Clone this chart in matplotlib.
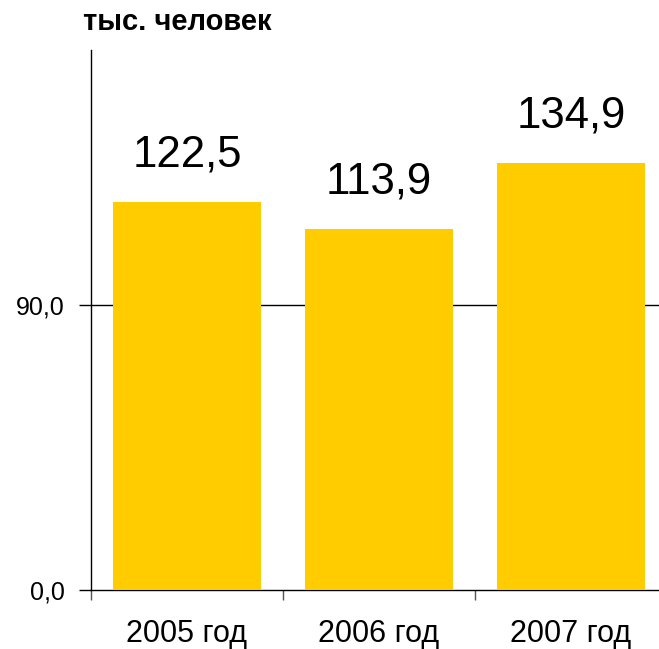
import numpy as np
import matplotlib.pyplot as plt

plt.rcParams["font.family"] = ["Liberation Sans", "DejaVu Sans"]

categories = ["2005 год", "2006 год", "2007 год"]
values = [122.5, 113.9, 134.9]
value_labels = ["122,5", "113,9", "134,9"]
ytick_values = [0, 90]
ytick_labels = ["0,0", "90,0"]
unit_label = "тыс. человек"

W, H = 659, 649
fig = plt.figure(figsize=(W / 100, H / 100), dpi=100)
ax = fig.add_axes([91 / W, 59 / H, (667 - 91) / W, (590 - 50) / H])

x = np.arange(len(categories))
bars = ax.bar(x, values, width=0.77, color="#FFCC00", zorder=3)

ax.set_xlim(-0.5, len(categories) - 0.5)
ax.set_ylim(0, 170.5)

# --- gridline at 90 ---
for v in ytick_values[1:]:
    ax.axhline(v, color="black", lw=1, zorder=1)

# --- data labels ---
for b, lab in zip(bars, value_labels):
    ax.annotate(lab, (b.get_x() + b.get_width() / 2, b.get_height()),
                xytext=(0, 19), textcoords="offset points",
                ha="center", va="bottom", fontsize=31.5)

# --- ticks ---
ax.set_yticks(ytick_values)
ax.set_yticklabels(ytick_labels, fontsize=18)
ax.set_xticks(x)
ax.set_xticklabels(categories, fontsize=22)
ax.tick_params(axis="x", which="major", length=0, pad=21)
ax.set_xticks(np.arange(len(categories) + 1) - 0.5, minor=True)
ax.tick_params(axis="x", which="minor", length=7, width=1, color="#555555")
ax.tick_params(axis="y", length=9, width=1, pad=10)

for side in ["top", "right"]:
    ax.spines[side].set_visible(False)
for side in ["left", "bottom"]:
    ax.spines[side].set_linewidth(1)

fig.text(83 / W, 1 - 30 / H, unit_label, fontsize=21, fontweight="bold",
         ha="left", va="baseline")

fig.savefig("out.png", dpi=100)
